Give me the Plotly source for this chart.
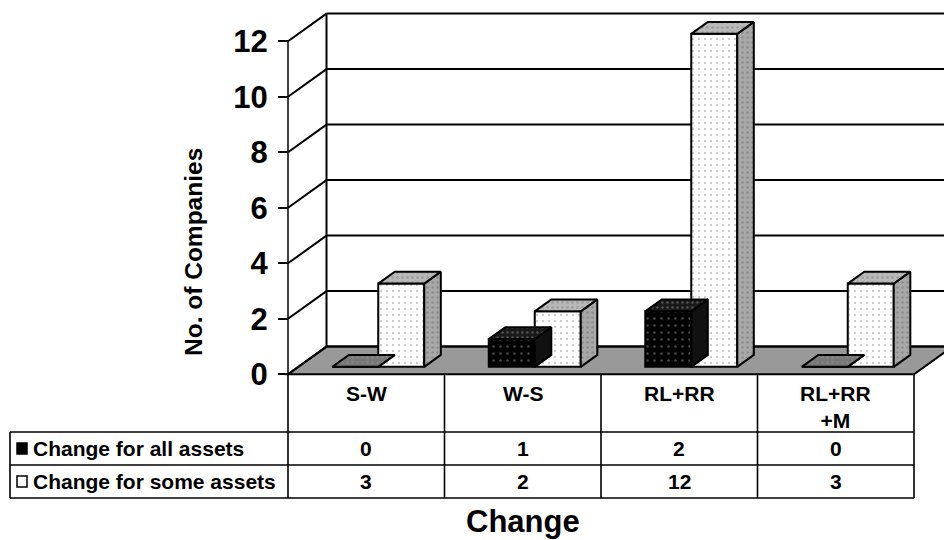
import plotly.graph_objects as go

# ---------------- data ----------------
categories = ["S-W", "W-S", "RL+RR", "RL+RR<br>+M"]
all_assets = [0, 1, 2, 0]
some_assets = [3, 2, 12, 3]
series_names = ["Change for all assets", "Change for some assets"]
y_ticks = [0, 2, 4, 6, 8, 10, 12]
x_title = "Change"
y_title = "No. of Companies"

# ---------------- geometry (layout constants) ----------------
W, H = 944, 540
COL_PX = 156.5          # pixels per category column
X0_PX = 288.0           # pixel of front-left axis (x = -0.5)
UNIT_PX = 27.75         # pixels per value unit
Y0_PX = 374.3           # pixel of value 0
XR = [-0.5 - X0_PX / COL_PX, -0.5 + (W - X0_PX) / COL_PX]
YR = [-(H - Y0_PX) / UNIT_PX, Y0_PX / UNIT_PX]
DX = 38.5 / COL_PX      # depth offset in x units
DY = 27.7 / UNIT_PX     # depth offset in y units
F0, F1 = 0.27, 0.70     # bar depth fractions
BW = 46 / COL_PX        # bar width
SHIFT = 12 / COL_PX     # bar pair centre shift
YMAX = max(y_ticks)
n = len(categories)

FONT = "Liberation Sans, Arial, sans-serif"

def px_x(p):
    return p / W

def px_y(p):
    return 1 - p / H

shapes = []
line_k = dict(color="black", width=2)

# floor
fx0, fx1 = -0.5, n - 0.5
shapes.append(dict(type="path", xref="x", yref="y", layer="below",
                   path=f"M {fx0},0 L {fx0+DX},{DY} L {fx1+DX},{DY} L {fx1},0 Z",
                   fillcolor="#999999", line=dict(color="black", width=2)))
# back wall grid lines + left wall diagonals
for v in y_ticks:
    shapes.append(dict(type="line", xref="x", yref="y", layer="below",
                       x0=fx0 + DX, x1=XR[1] + 0.1, y0=v + DY, y1=v + DY, line=line_k))
    shapes.append(dict(type="line", xref="x", yref="y", layer="below",
                       x0=fx0, x1=fx0 + DX, y0=v, y1=v + DY, line=line_k))
# back wall left edge
shapes.append(dict(type="line", xref="x", yref="y", layer="below",
                   x0=fx0 + DX, x1=fx0 + DX, y0=DY, y1=YMAX + DY, line=line_k))
# front axis line
shapes.append(dict(type="line", xref="x", yref="y",
                   x0=fx0, x1=fx0, y0=0, y1=YMAX, line=dict(color="black", width=1.5)))

# ---------------- table ----------------
T_LEFT = -0.5 - 278 / COL_PX
ROW1 = (Y0_PX - 432) / UNIT_PX
ROW2 = (Y0_PX - 465) / UNIT_PX
ROW3 = (Y0_PX - 498) / UNIT_PX
tl = dict(color="black", width=1.6)
for i in range(n + 1):
    shapes.append(dict(type="line", xref="x", yref="y", x0=i - 0.5, x1=i - 0.5,
                       y0=0, y1=ROW3, line=tl))
for yy in (ROW1, ROW2, ROW3):
    shapes.append(dict(type="line", xref="x", yref="y", x0=T_LEFT, x1=n - 0.5,
                       y0=yy, y1=yy, line=tl))
shapes.append(dict(type="line", xref="x", yref="y", x0=T_LEFT, x1=T_LEFT,
                   y0=ROW1, y1=ROW3, line=tl))

# legend keys in table
shapes.append(dict(type="rect", xref="paper", yref="paper",
                   x0=px_x(17), x1=px_x(27), y0=px_y(454), y1=px_y(443),
                   fillcolor="black", line=dict(color="black", width=1.5)))
shapes.append(dict(type="rect", xref="paper", yref="paper",
                   x0=px_x(17), x1=px_x(27), y0=px_y(487), y1=px_y(476),
                   fillcolor="white", line=dict(color="black", width=1.5)))

# ---------------- bars ----------------
fig = go.Figure()
base = F0 * DY
ddx = (F1 - F0) * DX
ddy = (F1 - F0) * DY
centers = [i + SHIFT for i in range(n)]

def top_poly(xl, xr_, h, keep=lambda v: True):
    xs, ys = [], []
    for a, b, hh in zip(xl, xr_, h):
        if not keep(hh):
            continue
        t = base + hh
        xs += [a, b, b + ddx, a + ddx, a, None]
        ys += [t, t, t + ddy, t + ddy, t, None]
    return xs, ys

def side_poly(xr_, h):
    xs, ys = [], []
    for b, hh in zip(xr_, h):
        t = base + hh
        xs += [b, b, b + ddx, b + ddx, b, None]
        ys += [base, t, t + ddy, base + ddy, base, None]
    return xs, ys

blk_l = [c - BW for c in centers]
blk_r = centers
wht_l = centers
wht_r = [c + BW for c in centers]

# black series: front face
fig.add_trace(go.Bar(
    x=[c - BW / 2 for c in centers], y=all_assets, base=base, width=BW,
    marker=dict(color="black",
                pattern=dict(shape=".", fgcolor="#8a8a8a", bgcolor="black", size=7, solidity=0.12),
                line=dict(color="black", width=2)),
    name=series_names[0], showlegend=False, hoverinfo="skip"))
# black side (hidden mostly)
xs, ys = side_poly(blk_r, all_assets)
fig.add_trace(go.Scatter(x=xs, y=ys, mode="lines", fill="toself", fillcolor="#111111",
                         line=dict(color="black", width=2), showlegend=False, hoverinfo="skip"))
# black top (raised bars)
xs, ys = top_poly(blk_l, blk_r, all_assets, keep=lambda v: v > 0)
fig.add_trace(go.Scatter(x=xs, y=ys, mode="lines", fill="toself",
                         fillcolor="#1a1a1a",
                         fillpattern=dict(shape=".", fgcolor="#8a8a8a", bgcolor="#1a1a1a", size=5, solidity=0.18),
                         line=dict(color="black", width=2), showlegend=False, hoverinfo="skip"))
# black top (zero-height bars)
xs, ys = top_poly(blk_l, blk_r, all_assets, keep=lambda v: v == 0)
fig.add_trace(go.Scatter(x=xs, y=ys, mode="lines", fill="toself",
                         fillcolor="#7a7a7a",
                         fillpattern=dict(shape=".", fgcolor="#999999", bgcolor="#787878", size=5, solidity=0.15),
                         line=dict(color="black", width=2), showlegend=False, hoverinfo="skip"))
# white series: front face
fig.add_trace(go.Bar(
    x=[c + BW / 2 for c in centers], y=some_assets, base=base, width=BW,
    marker=dict(color="white",
                pattern=dict(shape=".", fgcolor="#9a9a9a", bgcolor="white", size=6, solidity=0.12),
                line=dict(color="black", width=2)),
    name=series_names[1], showlegend=False, hoverinfo="skip"))
# white side
xs, ys = side_poly(wht_r, some_assets)
fig.add_trace(go.Scatter(x=xs, y=ys, mode="lines", fill="toself", fillcolor="#a0a0a0",
                         fillpattern=dict(shape=".", fgcolor="#707070", bgcolor="#a8a8a8", size=5, solidity=0.2),
                         line=dict(color="black", width=2), showlegend=False, hoverinfo="skip"))
# white top
xs, ys = top_poly(wht_l, wht_r, some_assets)
fig.add_trace(go.Scatter(x=xs, y=ys, mode="lines", fill="toself", fillcolor="#b4b4b4",
                         fillpattern=dict(shape=".", fgcolor="#808080", bgcolor="#b8b8b8", size=5, solidity=0.2),
                         line=dict(color="black", width=2), showlegend=False, hoverinfo="skip"))

# ---------------- annotations ----------------
ann = []
tf = dict(family=FONT, size=21, color="black", weight="bold")
for i, c in enumerate(categories):
    ann.append(dict(x=i, y=-0.2, xref="x", yref="y", text=c, showarrow=False,
                    yanchor="top", xanchor="center", font=tf))
    ann.append(dict(x=i, y=(ROW1 + ROW2) / 2, xref="x", yref="y", text=str(all_assets[i]),
                    showarrow=False, yanchor="middle", font=tf))
    ann.append(dict(x=i, y=(ROW2 + ROW3) / 2, xref="x", yref="y", text=str(some_assets[i]),
                    showarrow=False, yanchor="middle", font=tf))
ann.append(dict(x=px_x(31), y=(ROW1 + ROW2) / 2, xref="paper", yref="y", text=series_names[0],
                showarrow=False, xanchor="left", yanchor="middle", font=tf))
ann.append(dict(x=px_x(31), y=(ROW2 + ROW3) / 2, xref="paper", yref="y", text=series_names[1],
                showarrow=False, xanchor="left", yanchor="middle", font=tf))
ann.append(dict(x=1, y=px_y(521), xref="x", yref="paper", text=x_title, showarrow=False,
                xanchor="center", yanchor="middle",
                font=dict(family=FONT, size=31, color="black", weight="bold")))
ann.append(dict(x=px_x(193), y=px_y(252), xref="paper", yref="paper", text=y_title,
                showarrow=False, textangle=-90, xanchor="center", yanchor="middle",
                font=dict(family=FONT, size=24.5, color="black", weight="bold")))

fig.update_layout(
    width=W, height=H, autosize=False,
    margin=dict(l=0, r=0, t=0, b=0, pad=0),
    paper_bgcolor="white", plot_bgcolor="white",
    barmode="overlay", showlegend=False,
    shapes=shapes, annotations=ann,
    xaxis=dict(range=XR, visible=False, domain=[0, 1], fixedrange=True),
    yaxis=dict(range=YR, anchor="free", position=X0_PX / W,
               tickvals=y_ticks, ticktext=[str(v) for v in y_ticks],
               ticks="outside", ticklen=10, tickwidth=1.5, tickcolor="black",
               showgrid=False, zeroline=False, showline=False,
               ticklabelstandoff=4,
               tickfont=dict(family=FONT, size=31, color="black", weight="bold"),
               fixedrange=True),
)

fig.write_html("out.html")
